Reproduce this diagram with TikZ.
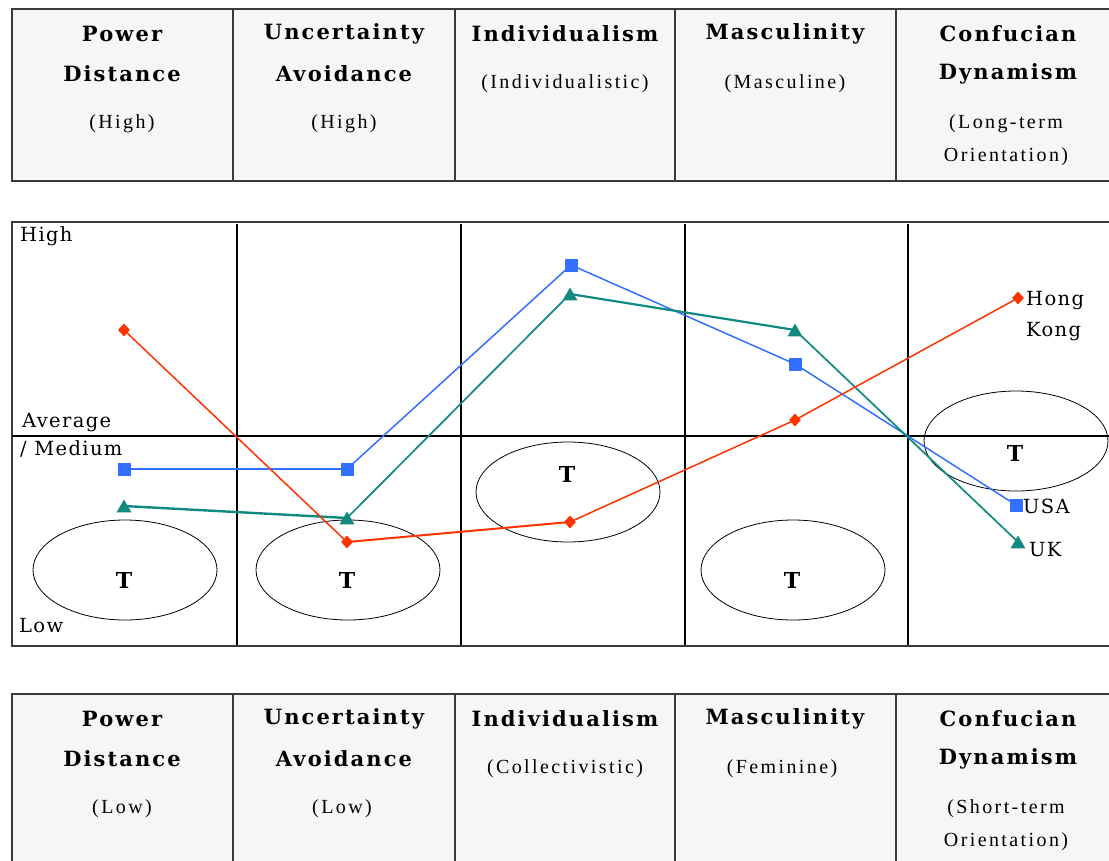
\documentclass[tikz,border=0pt]{standalone}
\usepackage{fontspec}
\setmainfont{Liberation Serif}
\newfontfamily\hdrfont[LetterSpace=10]{DejaVu Serif}
\newfontfamily\subfont[LetterSpace=12]{Liberation Serif}
\newfontfamily\lblfont[LetterSpace=7]{DejaVu Serif}
\newfontfamily\teefont{DejaVu Serif}
\usetikzlibrary{shapes.geometric}
\definecolor{hkred}{HTML}{FF3300}
\definecolor{usblue}{HTML}{3370FF}
\definecolor{ukteal}{HTML}{108A80}
\definecolor{cellbg}{HTML}{F6F6F6}
\definecolor{rulec}{HTML}{3A3A3A}
\begin{document}
\begin{tikzpicture}[x=1pt,y=-1pt,
  hd/.style={font=\hdrfont\bfseries\fontsize{21}{25}\selectfont, inner sep=0, anchor=center},
  sub/.style={font=\subfont\fontsize{20}{24}\selectfont, inner sep=0, anchor=center},
  lbl/.style={font=\lblfont\fontsize{19.5}{23}\selectfont, inner sep=0, anchor=west},
  tee/.style={font=\teefont\bfseries\fontsize{22}{26}\selectfont, inner sep=0},
  oval/.style={ellipse, draw=black, line width=0.8, minimum width=184, minimum height=100, inner sep=0},
  tablebox/.style={draw=rulec, line width=1.6, fill=cellbg},
  gridline/.style={draw=black, line width=1.2},
  hkmark/.style={diamond, fill=hkred, inner sep=0, minimum width=12, minimum height=13},
  usmark/.style={rectangle, fill=usblue, inner sep=0, minimum size=13},
  ukmark/.style={regular polygon, regular polygon sides=3, fill=ukteal, inner sep=0, minimum size=17},
]
\useasboundingbox (0,0) rectangle (1109,860);

% ---------- top table ----------
\draw[tablebox] (12,9) rectangle (1115,181);
\foreach \x in {233,455,675,896} \draw[draw=rulec, line width=1.6] (\x,9) -- (\x,181);
\node[hd] (t1a) at (122,34) {Power};
\node[hd] (t1b) at (122,74) {Distance};
\node[sub] (t1c) at (122,124) {(High)};
\node[hd] (t2a) at (344,34) {Uncertainty};
\node[hd] (t2b) at (344,74) {Avoidance};
\node[sub] (t2c) at (344,124) {(High)};
\node[hd] (t3a) at (565,34) {Individualism};
\node[sub] (t3b) at (565,84) {(Individualistic)};
\node[hd] (t4a) at (785,34) {Masculinity};
\node[sub] (t4b) at (785,84) {(Masculine)};
\node[hd] (t5a) at (1008,34) {Confucian};
\node[hd] (t5b) at (1008,74) {Dynamism};
\node[sub] (t5c) at (1006,124) {(Long-term};
\node[sub] (t5d) at (1006,157) {Orientation)};

% ---------- chart ----------
\draw[draw=rulec, line width=1.6, fill=white] (12,222) rectangle (1115,646);
\foreach \x in {237,461,685,908} \draw[gridline] (\x,224) -- (\x,645);
\draw[gridline] (12,436) -- (1115,436);

\node[lbl] (high) at (20,236) {High};
\node[lbl] (avg) at (22,423) {Average};
\node[lbl] (med) at (20,449) {/ Medium};
\node[lbl] (low) at (19,626) {Low};

\node[oval] (e1) at (125,570) {};
\node[oval] (e2) at (348,570) {};
\node[oval] (e3) at (568,492) {};
\node[oval] (e4) at (793,570) {};
\node[oval] (e5) at (1016,441) {};
\node[tee] (T1) at (124,580) {T};
\node[tee] (T2) at (347,580) {T};
\node[tee] (T3) at (567,474) {T};
\node[tee] (T4) at (792,580) {T};
\node[tee] (T5) at (1015,453) {T};

\coordinate (h1) at (124,330);
\coordinate (h2) at (347,542);
\coordinate (h3) at (570,522);
\coordinate (h4) at (795,420);
\coordinate (h5) at (1018,298);
\coordinate (u1) at (124,469);
\coordinate (u2) at (347,469);
\coordinate (u3) at (571,265);
\coordinate (u4) at (795,364);
\coordinate (u5) at (1016,505);
\coordinate (k1) at (124,506);
\coordinate (k2) at (347,518);
\coordinate (k3) at (570,294);
\coordinate (k4) at (795,330);
\coordinate (k5) at (1018,542);

\draw[usblue, line width=2.2] (u1) -- (u2);
\draw[usblue, line width=1.5] (u2) -- (u3) -- (u4) -- (u5);
\draw[ukteal, line width=2.4] (k1) -- (k2);
\draw[ukteal, line width=1.7] (k2) -- (k3);
\draw[ukteal, line width=2.2] (k3) -- (k4);
\draw[ukteal, line width=1.7] (k4) -- (k5);
\draw[hkred, line width=1.5] (h1) -- (h2);
\draw[hkred, line width=2] (h2) -- (h3);
\draw[hkred, line width=1.5] (h3) -- (h4) -- (h5);

\foreach \p in {h1,h2,h3,h4,h5} \node[hkmark] at (\p) {};
\foreach \p in {u1,u2,u3,u4,u5} \node[usmark] at (\p) {};
\foreach \p in {k1,k2,k3,k4,k5} \node[ukmark] at ([yshift=-2pt]\p) {};

\node[lbl] (hong) at (1026,301) {Hong};
\node[lbl] (kong) at (1026,332) {Kong};
\node[lbl] (usa) at (1023,506) {USA};
\node[lbl] (uk) at (1029,550) {UK};

% ---------- bottom table ----------
\draw[tablebox] (12,694) rectangle (1115,870);
\foreach \x in {233,455,675,896} \draw[draw=rulec, line width=1.6] (\x,694) -- (\x,870);
\node[hd] (b1a) at (122,719) {Power};
\node[hd] (b1b) at (122,759) {Distance};
\node[sub] (b1c) at (122,809) {(Low)};
\node[hd] (b2a) at (344,719) {Uncertainty};
\node[hd] (b2b) at (344,759) {Avoidance};
\node[sub] (b2c) at (342,809) {(Low)};
\node[hd] (b3a) at (565,719) {Individualism};
\node[sub] (b3b) at (565,769) {(Collectivistic)};
\node[hd] (b4a) at (785,719) {Masculinity};
\node[sub] (b4b) at (782,769) {(Feminine)};
\node[hd] (b5a) at (1008,719) {Confucian};
\node[hd] (b5b) at (1008,759) {Dynamism};
\node[sub] (b5c) at (1006,809) {(Short-term};
\node[sub] (b5d) at (1006,842) {Orientation)};
\end{tikzpicture}
\end{document}
